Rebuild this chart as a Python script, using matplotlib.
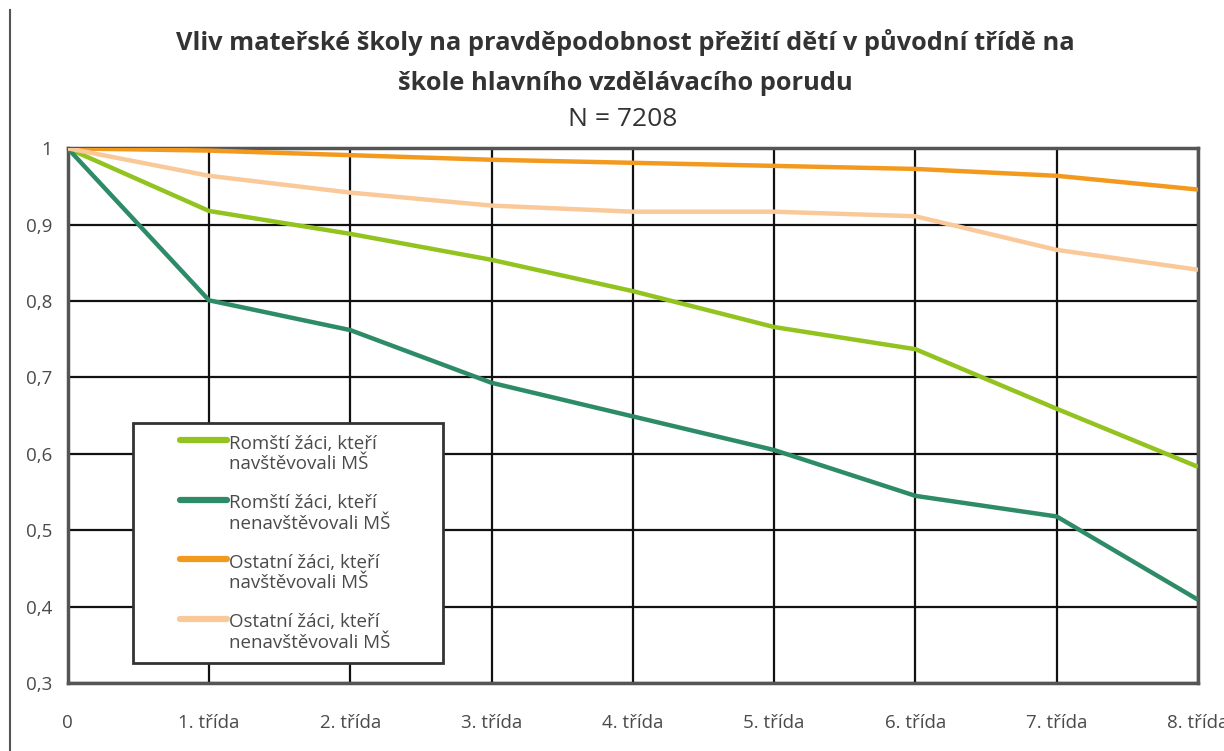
import matplotlib.pyplot as plt
from matplotlib.patches import Rectangle
from matplotlib.lines import Line2D
from matplotlib.ticker import FuncFormatter

# data
tridy = ["0", "1. třída", "2. třída", "3. třída", "4. třída",
         "5. třída", "6. třída", "7. třída", "8. třída"]
romsti_ms = [1, 0.918, 0.888, 0.854, 0.813, 0.766, 0.737, 0.659, 0.583]
romsti_bez_ms = [1, 0.801, 0.762, 0.693, 0.649, 0.605, 0.545, 0.518, 0.409]
ostatni_ms = [1, 0.997, 0.991, 0.985, 0.981, 0.977, 0.973, 0.964, 0.946]
ostatni_bez_ms = [1, 0.964, 0.942, 0.925, 0.917, 0.917, 0.911, 0.867, 0.841]

labels = ["Romští žáci, kteří\nnavštěvovali MŠ",
          "Romští žáci, kteří\nnenavštěvovali MŠ",
          "Ostatní žáci, kteří\nnavštěvovali MŠ",
          "Ostatní žáci, kteří\nnenavštěvovali MŠ"]
colors = ["#92C31E", "#2E8B68", "#F39A1E", "#FAC99A"]

plt.rcParams["font.family"] = ["Open Sans", "DejaVu Sans"]

W, H = 1224, 751
fig = plt.figure(figsize=(W / 100, H / 100), dpi=100)
x0, x1, y0, y1 = 67.7, 1198, 148.3, 683
ax = fig.add_axes([x0 / W, 1 - y1 / H, (x1 - x0) / W, (y1 - y0) / H])

xs = list(range(len(tridy)))
for vals, c in zip([romsti_ms, romsti_bez_ms, ostatni_ms, ostatni_bez_ms], colors):
    ax.plot(xs, vals, color=c, lw=3.2, solid_capstyle="butt", zorder=3)

ax.set_xlim(0, 8)
ax.set_ylim(0.3, 1.0)
ax.set_xticks(xs)
ax.set_xticklabels(tridy)
ax.set_yticks([0.3, 0.4, 0.5, 0.6, 0.7, 0.8, 0.9, 1.0])
ax.yaxis.set_major_formatter(FuncFormatter(lambda v, p: "1" if v >= 0.999 else f"{v:.1f}".replace(".", ",")))
ax.grid(True, color="#111111", lw=1.6, zorder=1)
ax.tick_params(length=0, labelsize=13.5, colors="#4a4a4a", pad=11)
ax.tick_params(axis="x", pad=22)
for s in ax.spines.values():
    s.set_color("#555555")
    s.set_linewidth(2.5)

# legend, placed by hand so the handle sits on the first text line
def fx(px):
    return px / W

def fy(py):
    return 1 - py / H

fig.add_artist(Rectangle((fx(133), fy(663)), fx(443) - fx(133), fy(423) - fy(663),
                         facecolor="white", edgecolor="#333333", lw=2, zorder=5))
for i, (lab, c) in enumerate(zip(labels, colors)):
    top = 440 + i * 59.5
    fig.add_artist(Line2D([fx(180), fx(227)], [fy(top), fy(top)], color=c, lw=4.5,
                          solid_capstyle="round", zorder=6))
    fig.text(fx(229), fy(top + 14), lab, ha="left", va="center", fontsize=13.5,
             linespacing=1.2, color="#4a4a4a", zorder=6)

# title
fig.text(625 / W, 1 - 43 / H, "Vliv mateřské školy na pravděpodobnost přežití dětí v původní třídě na",
         ha="center", va="center", fontsize=18.3, fontweight="bold", color="#333333")
fig.text(625 / W, 1 - 83 / H, "škole hlavního vzdělávacího porudu",
         ha="center", va="center", fontsize=18.3, fontweight="bold", color="#333333")
fig.text(623 / W, 1 - 120 / H, "N = 7208", ha="center", va="center", fontsize=19, color="#333333")

# page border on the left
fig.add_artist(Line2D([10 / W, 10 / W], [0, 1 - 10 / H], color="#555555", lw=1.5))

fig.savefig("out.png", dpi=100)
